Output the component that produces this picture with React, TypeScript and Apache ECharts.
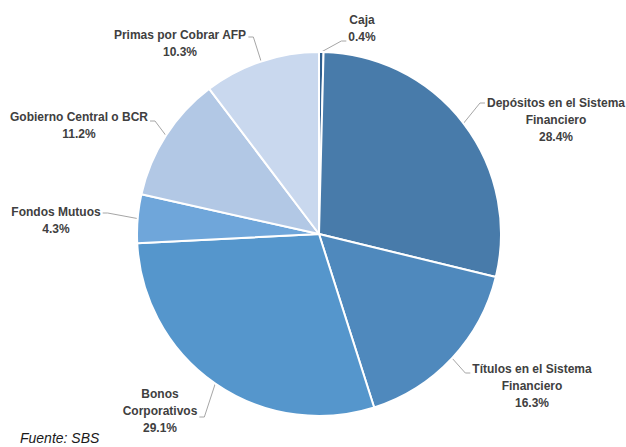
import React, { useEffect, useRef } from 'react';
import * as echarts from 'echarts';

const categories = [
  'Caja',
  'Depósitos en el Sistema\nFinanciero',
  'Títulos en el Sistema\nFinanciero',
  'Bonos\nCorporativos',
  'Fondos Mutuos',
  'Gobierno Central o BCR',
  'Primas por Cobrar AFP',
];
const shares = [0.4, 28.4, 16.3, 29.1, 4.3, 11.2, 10.3];
const sliceColors = ['#2F5F8F', '#487BAA', '#4F89BD', '#5596CC', '#6FA6DA', '#B2C8E5', '#C9D8EE'];
const sourceNote = 'Fuente: SBS';

const LABEL_FONT = '"Liberation Sans", Arial, sans-serif';
const LABEL_SIZE = 12;

// label placement (layout only): centre of text block, side of pie, y where the leader meets the label
const labelSpots = [
  { x: 362, y: 28.5, side: 'right', attachY: 41 },
  { x: 556, y: 119.5, side: 'right', attachY: 103 },
  { x: 532, y: 386, side: 'right', attachY: 373 },
  { x: 160, y: 411, side: 'left', attachY: 417 },
  { x: 56, y: 220, side: 'left', attachY: 213 },
  { x: 79, y: 125, side: 'left', attachY: 121 },
  { x: 180, y: 43.5, side: 'left', attachY: 37 },
];

export default function App() {
  const ref = useRef<HTMLDivElement>(null);
  useEffect(() => {
    if (!ref.current) return;
    const chart = echarts.init(ref.current, null, { renderer: 'svg' });
    const ctx = document.createElement('canvas').getContext('2d')!;
    ctx.font = `bold ${LABEL_SIZE}px ${LABEL_FONT}`;
    const labelTexts = categories.map((c, i) => `${c}\n${shares[i].toFixed(1)}%`);
    const textWidth = (s: string) => Math.max(...s.split('\n').map((l) => ctx.measureText(l).width));

    chart.setOption({
      animation: false,
      graphic: [
        {
          type: 'text',
          left: 20,
          top: 431,
          style: { text: sourceNote, font: `italic 14px ${LABEL_FONT}`, fill: '#1a1a1a' },
        },
      ],
      series: [
        {
          type: 'pie',
          center: [319, 234],
          radius: 182,
          startAngle: 90,
          clockwise: true,
          avoidLabelOverlap: false,
          data: categories.map((name, i) => ({ name, value: shares[i], itemStyle: { color: sliceColors[i] } })),
          itemStyle: { borderColor: '#ffffff', borderWidth: 2 },
          label: {
            show: true,
            position: 'outside',
            formatter: (p: any) => labelTexts[p.dataIndex],
            fontFamily: LABEL_FONT,
            fontSize: LABEL_SIZE,
            fontWeight: 'bold',
            color: '#404040',
            lineHeight: 17,
            align: 'center',
            width: 190,
            overflow: 'none',
          },
          labelLine: { show: true, length: 10, length2: 5, lineStyle: { color: '#A6A6A6', width: 1 } },
          labelLayout: (params: any) => {
            const spot = labelSpots[params.dataIndex];
            const half = textWidth(labelTexts[params.dataIndex]) / 2 + 2;
            const endX = spot.side === 'right' ? spot.x - half : spot.x + half;
            const elbowX = spot.side === 'right' ? endX - 5 : endX + 5;
            const anchor = params.labelLinePoints ? params.labelLinePoints[0] : [elbowX, spot.attachY];
            return {
              x: spot.x,
              y: spot.y,
              align: 'center',
              verticalAlign: 'middle',
              labelLinePoints: [anchor, [elbowX, spot.attachY], [endX, spot.attachY]],
            };
          },
          emphasis: { disabled: true },
        },
      ],
    });
    return () => chart.dispose();
  }, []);
  return <div ref={ref} style={{ position: 'fixed', left: 0, top: 0, width: 626, height: 447, background: '#fff' }} />;
}
